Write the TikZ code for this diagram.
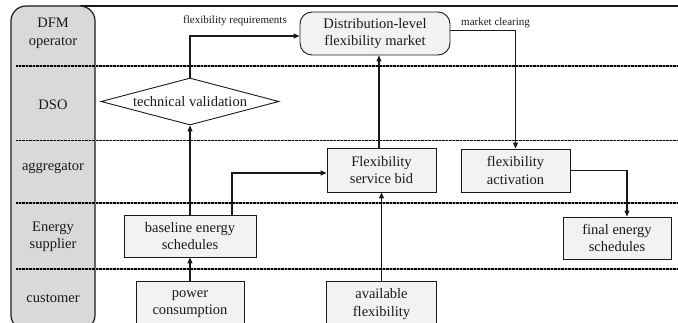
\documentclass[tikz,border=0pt]{standalone}
\usepackage{fontspec}
\setmainfont{Liberation Serif}
\usetikzlibrary{arrows.meta,shapes.geometric}
\definecolor{boxfill}{HTML}{F2F2F2}
\definecolor{lanefill}{HTML}{D9D9D9}
\definecolor{ink}{HTML}{1A1A1A}
\tikzset{
  procbox/.style={draw=ink, line width=0.9pt, fill=boxfill, inner sep=0pt, align=center,
    font=\fontsize{14.5}{17.5}\selectfont, text=ink},
  lanelabel/.style={inner sep=0pt, align=center, font=\fontsize{14.5}{17.5}\selectfont, text=ink},
  smalllabel/.style={inner sep=0pt, font=\fontsize{11}{13}\selectfont, text=ink},
  flow/.style={draw=ink, line width=1.1pt, -{Triangle[length=6pt,width=5pt]}},
  divider/.style={line width=1.6pt, draw=gray!75},
  dividerdots/.style={line width=1.6pt, draw=black, dash pattern=on 0.8pt off 0.6pt},
}
\begin{document}
\begin{tikzpicture}[x=1pt,y=-1pt]
\useasboundingbox (0,0) rectangle (678,323);
% top frame line
\draw[draw=ink, line width=1.3pt] (80,6) -- (678,6);
% lane label panel
\draw[draw=ink, line width=1.2pt, fill=lanefill, rounded corners=15pt] (11,6) rectangle (95,330);
% dividers
\foreach \yy in {66,140.5,202.8,269} {
  \draw[divider] (16,\yy) -- (678,\yy);
  \draw[dividerdots] (16,\yy) -- (678,\yy);
}
% lane labels
\node[lanelabel] (l1) at (53,33.5) {DFM\\operator};
\node[lanelabel] (l2) at (53,105) {DSO};
\node[lanelabel] (l3) at (53,168) {aggregator};
\node[lanelabel] (l4) at (53,237) {Energy\\supplier};
\node[lanelabel] (l5) at (53,298) {customer};
% nodes
\node[procbox, rounded corners=12pt, minimum width=150pt, minimum height=43pt] (market) at (375,33.5) {Distribution-level\\flexibility market};
\node[procbox, fill=white, shape=diamond, aspect=3.8, minimum width=178pt, minimum height=47pt] (valid) at (190,101.5) {technical validation};
\node[procbox, minimum width=109pt, minimum height=44pt] (bid) at (381.5,170) {Flexibility\\service bid};
\node[procbox, minimum width=109pt, minimum height=43pt] (act) at (515.5,170.5) {flexibility\\activation};
\node[procbox, minimum width=108pt, minimum height=42pt] (final) at (617,238) {final energy\\schedules};
\node[procbox, minimum width=132pt, minimum height=42pt] (base) at (190,236) {baseline energy\\schedules};
\node[procbox, minimum width=108pt, minimum height=46pt] (power) at (190,304) {power\\consumption};
\node[procbox, minimum width=110pt, minimum height=46pt] (avail) at (381.5,304) {available\\flexibility};
% connector labels
\node[smalllabel] (req) at (235,21) {flexibility requirements};
\node[smalllabel, anchor=west] (clear) at (461,22.5) {market clearing};
% connectors
\draw[flow] (power.north) -- (base.south);
\draw[flow] (base.north) -- (valid.south);
\draw[flow] (valid.north) |- ([yshift=-2.5pt]market.west);
\draw[flow] ([xshift=42pt]base.north) |- ([yshift=-3pt]bid.west);
\draw[flow] (avail.north) -- (bid.south);
\draw[flow] ([xshift=-2.5pt]bid.north) -- ([xshift=-2.5pt]bid.north |- market.south);
\draw[flow] ([yshift=3pt]market.east) -| (act.north);
\draw[flow] (act.east) -| ([xshift=10pt]final.north);
\end{tikzpicture}
\end{document}
